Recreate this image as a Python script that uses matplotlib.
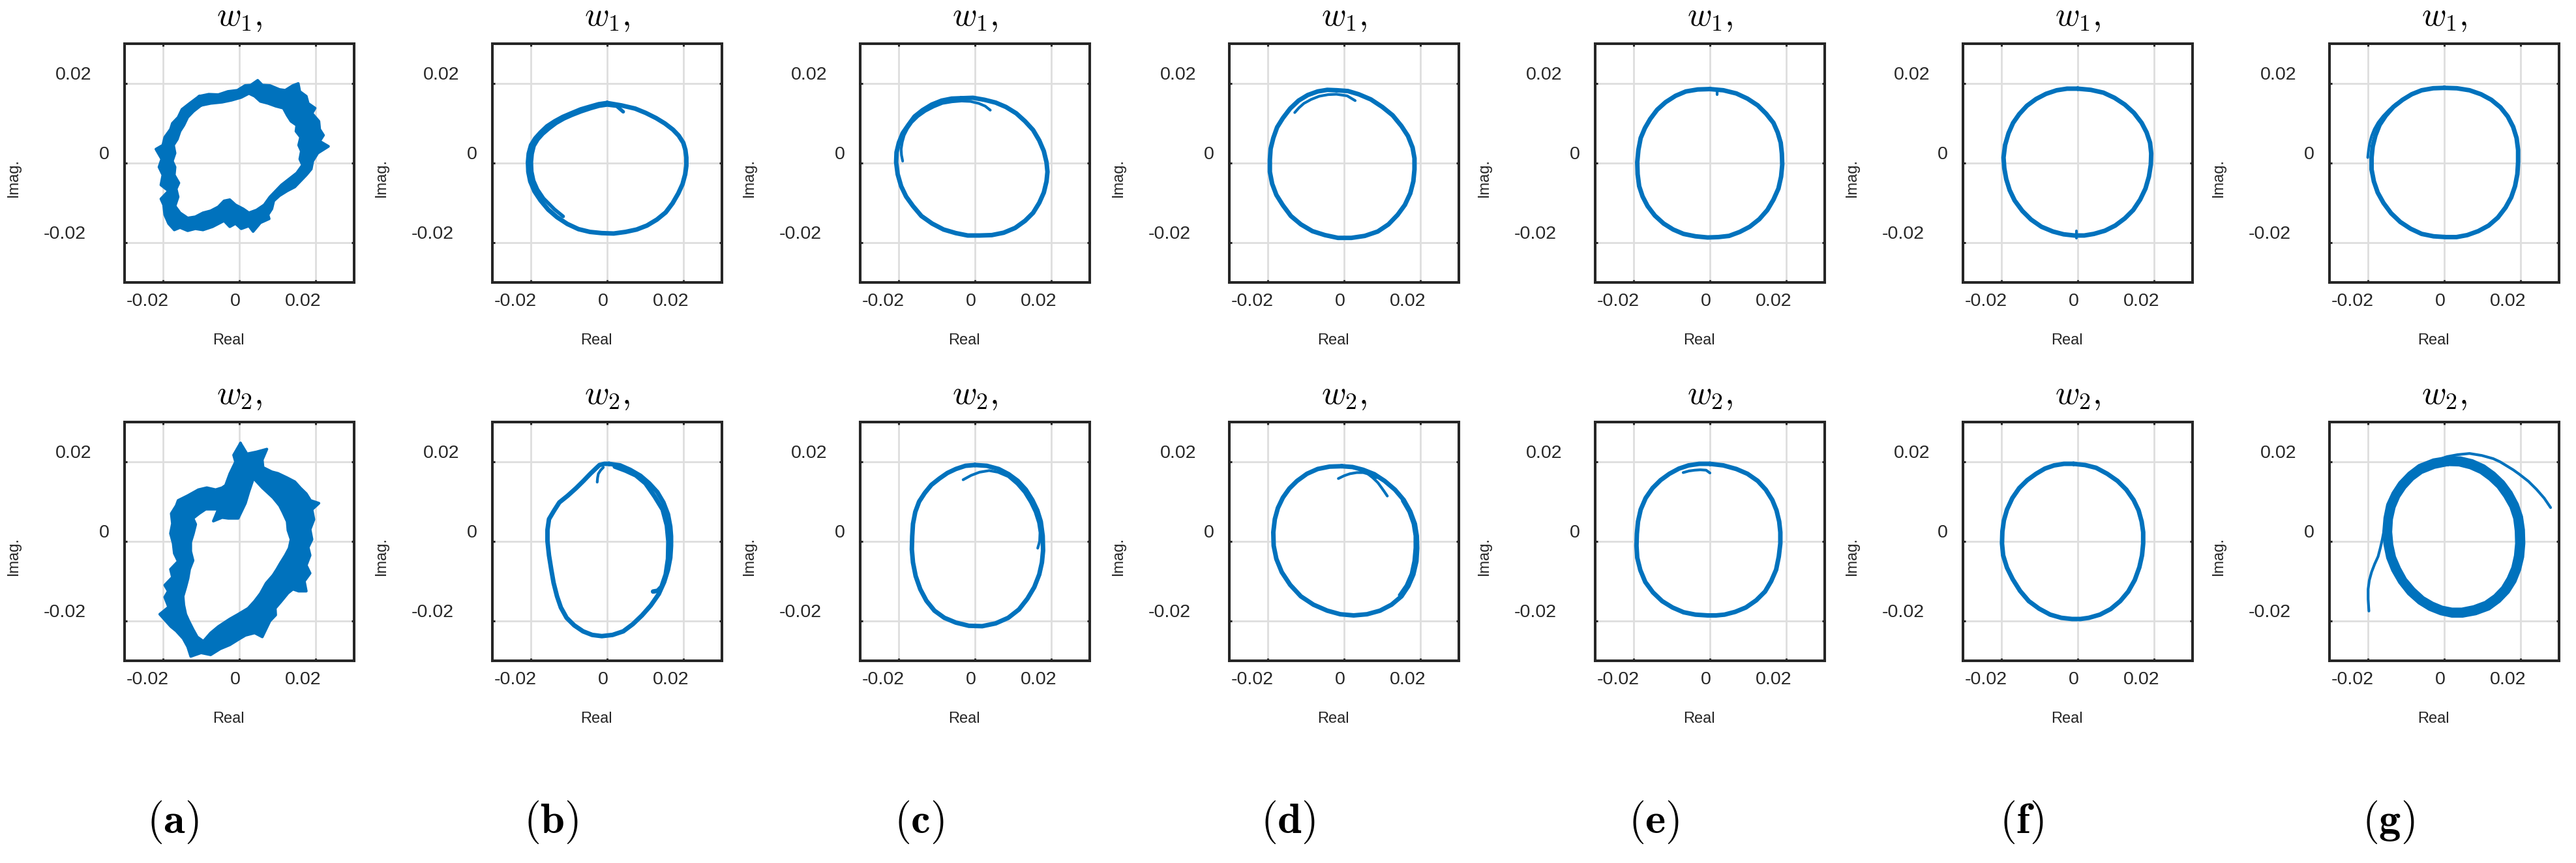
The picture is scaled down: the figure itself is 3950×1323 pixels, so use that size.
import numpy as np
import matplotlib
matplotlib.use('Agg')
import matplotlib.pyplot as plt
from matplotlib.path import Path
from matplotlib.patches import PathPatch
from matplotlib.transforms import offset_copy, blended_transform_factory

plt.rcParams['font.family'] = ['Liberation Sans', 'DejaVu Sans']
plt.rcParams['mathtext.fontset'] = 'cm'

W, H = 3950, 1323
blue = '#0072BD'
ink = '#262626'
milli = 1e-3   # every point below in units of 1e-3

# ---------------- data (Real, Imag.) ----------------
panel_names = ['a', 'b', 'c', 'd', 'e', 'f', 'g']
row_titles = [r'$w_{1},$', r'$w_{2},$']
tick_vals = [-0.02, 0, 0.02]
tick_text = ['-0.02', '0', '0.02']

# (a) noisy loops: outer and inner edge of the band, plus a middle trace
a_w1_outer = [(-10.5,16.8),(-8.0,17.3),(-5.5,17.2),(-3.0,18.0),(-0.5,18.3),(1.5,19.5),(3.0,19.6),(4.8,20.8),
              (6.0,19.6),(8.0,19.5),(10.5,18.5),(12.0,18.3),(14.0,19.5),(15.4,20.0),(15.8,18.0),(17.5,16.8),
              (18.0,15.0),(19.8,13.8),(19.0,12.5),(20.8,10.5),(21.0,8.5),(22.0,7.0),(21.0,5.5),(23.3,4.2),
              (20.5,2.5),(19.2,0.5),(18.8,-1.5),(17.5,-3.0),(16.0,-4.5),(14.5,-6.0),(12.5,-7.0),(10.5,-8.2),
              (9.0,-9.5),(8.5,-11.5),(7.5,-13.0),(7.8,-14.0),(5.5,-15.0),(3.6,-17.2),(2.5,-15.8),(0.5,-16.5),
              (-1.0,-15.2),(-2.5,-16.0),(-4.0,-14.5),(-5.0,-15.0),(-7.0,-16.0),(-9.5,-16.8),(-11.5,-16.5),
              (-13.5,-17.0),(-15.5,-16.2),(-17.0,-16.8),(-18.5,-15.2),(-19.5,-13.0),(-19.8,-10.5),(-20.5,-9.0),
              (-18.5,-7.0),(-20.5,-5.5),(-20.0,-3.0),(-21.0,-1.0),(-20.3,1.0),(-21.8,3.5),(-20.0,4.5),
              (-19.5,6.5),(-18.0,8.5),(-17.5,10.0),(-16.0,11.5),(-15.0,13.5),(-13.0,15.0),(-10.5,16.8)]
a_w1_inner = [(-10.0,14.5),(-7.5,15.0),(-4.5,15.3),(-2.0,15.8),(0.5,16.5),(2.5,17.5),(4.0,16.8),(5.5,15.5),
              (7.5,15.0),(9.5,14.3),(11.5,13.8),(12.5,12.0),(13.5,10.5),(15.0,9.5),(14.8,8.0),(16.0,6.5),
              (15.5,4.5),(16.2,3.0),(15.8,1.0),(16.5,-0.5),(15.0,-2.5),(13.0,-4.0),(11.0,-5.5),(9.5,-7.0),
              (8.0,-8.5),(6.5,-10.5),(4.5,-11.8),(2.5,-12.5),(1.0,-11.5),(-1.0,-10.5),(-2.5,-9.2),(-4.0,-9.5),
              (-5.5,-11.0),(-7.5,-12.0),(-9.5,-12.5),(-11.5,-13.5),(-13.5,-13.8),(-15.5,-12.5),(-16.8,-10.8),
              (-16.0,-8.5),(-16.5,-6.5),(-15.8,-5.0),(-17.0,-3.0),(-16.8,-1.0),(-17.5,0.5),(-16.8,2.5),
              (-17.2,4.5),(-16.2,6.0),(-15.5,8.0),(-14.5,9.5),(-13.5,11.5),(-12.0,13.0),(-10.0,14.5)]
a_w1_mid = [(-10.5,15.8),(-6.0,16.3),(-1.5,17.0),(2.5,18.5),(5.0,18.2),(8.0,17.5),(11.0,16.5),(13.5,16.5),
            (15.0,14.5),(17.0,13.0),(18.0,10.5),(18.5,7.0),(19.5,4.0),(18.0,1.5),(17.5,-1.5),(14.5,-4.5),
            (11.5,-6.8),(8.5,-9.0),(7.0,-12.0),(4.5,-14.0),(1.5,-14.5),(-1.5,-12.5),(-3.5,-12.0),(-6.0,-13.5),
            (-9.5,-14.8),(-13.0,-15.5),(-16.5,-14.5),(-18.0,-12.0),(-18.2,-8.0),(-18.8,-4.0),(-19.0,0.0),
            (-19.2,4.0),(-17.5,7.5),(-15.5,11.0),(-13.0,14.0),(-10.5,15.8)]
a_w2_outer = [(0.3,24.7),(2.0,22.0),(4.5,22.5),(7.2,23.2),(6.0,20.5),(6.2,18.6),(8.5,17.5),(10.1,17.1),
              (12.5,16.0),(14.5,15.0),(16.0,13.4),(17.5,12.0),(18.6,10.3),(20.8,9.6),(19.0,8.0),(19.5,5.5),
              (18.5,3.0),(19.0,0.5),(18.0,-1.5),(18.5,-3.5),(17.5,-6.0),(18.5,-8.0),(17.0,-10.0),(17.5,-12.5),
              (15.5,-12.5),(14.0,-12.0),(12.7,-13.0),(11.0,-15.0),(9.4,-16.8),(9.5,-18.5),(8.0,-20.0),
              (7.0,-22.0),(6.0,-24.0),(4.0,-23.0),(1.6,-23.6),(0.0,-24.5),(-2.5,-26.0),(-5.0,-27.0),
              (-7.5,-28.5),(-10.0,-28.0),(-12.7,-28.9),(-13.5,-26.5),(-14.7,-24.4),(-16.5,-22.5),(-17.9,-21.4),
              (-20.8,-18.3),(-18.5,-16.5),(-19.5,-14.0),(-18.6,-12.5),(-19.5,-11.0),(-17.5,-9.0),(-18.0,-7.0),
              (-16.0,-5.0),(-17.0,-3.0),(-17.3,-0.5),(-18.0,2.0),(-17.5,4.5),(-17.8,7.0),(-16.5,9.0),
              (-16.0,10.3),(-13.5,11.5),(-10.7,13.0),(-8.5,13.5),(-6.2,13.0),(-4.5,13.5),(-3.6,14.1),
              (-2.5,17.0),(-1.0,20.0),(-1.5,21.7),(0.3,24.7)]
a_w2_inner = [(1.5,20.0),(3.6,16.0),(6.0,13.5),(8.8,11.0),(10.5,9.0),(11.4,7.3),(12.5,5.0),(12.7,2.8),
              (13.5,0.5),(13.0,-1.7),(12.0,-3.5),(10.7,-5.5),(9.8,-7.0),(8.8,-8.5),(7.0,-10.5),(5.5,-13.1),
              (4.0,-15.0),(2.3,-16.8),(-0.3,-18.3),(-2.5,-19.5),(-5.5,-21.4),(-7.5,-23.0),(-9.4,-25.1),
              (-11.0,-24.0),(-12.1,-22.1),(-13.2,-20.0),(-14.0,-18.3),(-14.5,-16.0),(-14.7,-13.8),(-14.0,-11.5),
              (-13.4,-9.3),(-13.0,-7.0),(-12.1,-4.8),(-12.7,-2.5),(-12.7,-0.2),(-12.0,2.0),(-11.4,4.3),
              (-12.1,5.8),(-10.5,7.0),(-8.8,8.1),(-5.5,8.1),(-6.8,5.1),(-4.5,6.0),(-2.9,5.8),(-0.3,5.8),
              (0.8,8.0),(1.6,9.6),(2.5,12.5),(3.6,15.6),(2.5,18.0),(1.5,20.0)]
a_w2_mid = [(1.0,22.5),(4.5,19.5),(7.0,15.5),(10.0,13.5),(13.5,11.5),(16.0,9.5),(16.5,6.0),(16.0,2.5),
            (16.5,-1.0),(15.5,-4.5),(15.0,-8.0),(13.0,-10.0),(10.5,-11.5),(8.0,-14.0),(6.5,-17.0),(4.0,-19.5),
            (1.0,-21.0),(-2.0,-22.5),(-5.0,-24.5),(-8.0,-26.5),(-11.0,-27.0),(-13.5,-24.0),(-16.0,-21.0),
            (-17.5,-18.0),(-16.5,-14.0),(-16.8,-10.0),(-15.0,-6.5),(-15.2,-3.0),(-15.5,1.0),(-15.0,5.0),
            (-14.5,8.5),(-12.0,10.5),(-9.0,11.0),(-5.0,11.0),(-2.5,10.5),(-1.0,13.0),(0.0,17.0),(1.0,22.5)]

# (b)
b_w1 = [(0,15.1),(3.7,14.5),(7.3,13.7),(10.1,12.6),(12.8,11.3),(15.1,9.95),(17.2,8.4),(18.7,6.9),(19.9,5.1),
        (20.45,3.3),(20.7,1.4),(20.7,-0.7),(20.4,-2.8),(19.7,-5.3),(18.6,-7.6),(17.1,-10.1),(15.3,-12.4),
        (13.0,-14.2),(10.4,-15.7),(7.7,-16.7),(4.8,-17.3),(1.7,-17.7),(-1.4,-17.6),(-4.5,-17.3),(-7.5,-16.6),
        (-10.4,-15.3),(-13.1,-13.6),(-15.4,-11.7),(-17.4,-9.4),(-19.0,-7.1),(-20.1,-4.6),(-20.6,-2.2),
        (-20.7,0.2),(-20.5,2.4),(-19.9,4.5),(-18.8,6.2),(-17.4,7.7),(-15.7,9.25),(-13.7,10.5),(-11.6,11.6),
        (-9.4,12.5),(-6.9,13.5),(-4.4,14.2),(-2.2,14.8),(0,15.1)]
b_w1_arc = [(-11.5,-13.4),(-13.8,-11.6),(-16.6,-8.9),(-18.2,-6.6),(-19.2,-4.4),(-19.7,-2.1),(-19.8,0.2),
            (-19.6,2.3),(-19.1,4.3),(-18.1,5.9),(-16.8,7.3),(-15.1,8.7),(-13.3,10.0),(-11.3,11.1),(-9.2,12.0),
            (-6.8,12.9),(-4.3,13.7),(-2.1,14.3),(0.0,14.6),(2.5,14.3),(4.2,12.9)]
b_w2 = [(0.5,19.5),(3.4,19.1),(6.0,18.0),(8.7,16.5),(11.0,14.6),(13.1,12.4),(14.7,9.8),(15.9,6.8),(16.5,3.7),
        (16.7,1.3),(16.7,-1.1),(16.5,-4.1),(15.9,-7.1),(14.9,-10.2),(13.5,-13.2),(11.4,-16.1),(9.1,-18.6),
        (6.7,-20.8),(4.2,-22.6),(1.4,-23.5),(-1.4,-23.8),(-3.9,-23.5),(-6.3,-22.6),(-8.6,-21.1),(-10.6,-19.2),
        (-12.1,-16.6),(-13.1,-13.8),(-14.0,-10.4),(-14.6,-7.1),(-15.2,-3.5),(-15.6,0.1),(-15.6,2.9),
        (-15.2,5.6),(-13.9,7.7),(-12.5,9.8),(-10.3,11.5),(-8.1,13.4),(-6.2,15.2),(-4.4,17.0),(-3.1,18.2),
        (-2.0,19.2),(-0.7,19.5),(0.5,19.5)]
b_w2_arc = [(2.0,18.8),(4.8,17.8),(7.5,16.6),(10.0,14.6),(12.4,11.3),(14.5,8.0),(15.6,4.0),(16.0,0.0),
            (15.9,-4.4),(15.3,-8.3),(14.2,-11.4),(13.2,-12.4),(12.0,-12.6)]
b_w2_hook = [(-2.6,14.9),(-2.5,16.0),(-2.3,17.0),(-1.7,17.9),(-1.0,18.6)]

# (c)
c_w1 = [(-3.5,16.3),(-0.5,16.4),(2.5,15.9),(5.4,15.2),(8.1,14.1),(10.8,12.5),(13.1,10.5),(15.2,8.3),(16.8,5.7),
        (18.0,3.0),(18.7,0.2),(18.95,-2.2),(18.7,-4.6),(18.0,-7.4),(16.8,-10.0),(15.2,-12.5),(13.1,-14.5),
        (10.5,-16.3),(7.5,-17.5),(4.4,-18.1),(1.2,-18.2),(-1.9,-18.2),(-5.0,-17.6),(-8.2,-16.7),(-11.2,-15.2),
        (-14.0,-13.3),(-16.2,-10.8),(-18.0,-8.4),(-19.3,-5.8),(-20.2,-2.8),(-20.6,0.2),(-20.5,2.7),(-19.9,5.1),
        (-18.9,7.5),(-17.4,9.6),(-15.8,11.7),(-13.7,13.3),(-11.3,14.7),(-8.7,15.7),(-6.1,16.2),(-3.5,16.3)]
c_w1_arc = [(-18.9,0.5),(-19.2,2.0),(-19.3,3.5),(-19.0,5.3),(-18.5,7.0),(-17.6,8.7),(-16.5,10.2),
            (-14.9,11.7),(-13.0,13.0),(-10.8,14.1),(-8.5,15.0),(-6.0,15.4),(-3.5,15.6),(-1.2,15.5),
            (1.0,15.0),(2.7,14.3),(4.0,13.3)]
c_w2 = [(0,19.2),(3.1,19.0),(6.2,18.2),(8.8,16.9),(11.2,15.2),(13.3,13.0),(15.0,10.4),(16.3,7.8),(17.2,5.0),
        (17.7,1.4),(17.8,-2.3),(17.5,-5.3),(16.8,-8.3),(15.5,-11.5),(13.7,-14.4),(11.5,-17.1),(8.7,-19.2),
        (5.4,-20.6),(1.9,-21.3),(-1.6,-21.2),(-5.0,-20.4),(-8.0,-19.2),(-10.6,-17.4),(-12.7,-14.9),
        (-14.3,-12.0),(-15.5,-8.7),(-16.2,-5.3),(-16.5,-2.0),(-16.4,1.3),(-16.2,4.4),(-15.6,7.4),(-14.6,10.0),
        (-13.1,12.2),(-11.4,14.2),(-9.3,15.8),(-7.2,17.2),(-5.0,18.2),(-2.5,19.0),(0,19.2)]
c_w2_arc = [(-3.1,15.5),(-1.0,16.6),(1.2,17.4),(3.7,17.8),(6.0,17.4),(8.7,16.3),(11.0,14.4),(12.9,12.3),
            (14.5,9.8),(15.7,7.4),(16.6,4.7),(17.0,2.2),(16.9,0.0),(16.4,-1.7)]

# (d)
d_w1 = [(-1.9,18.3),(1.0,18.1),(3.8,17.3),(7.0,16.0),(10.0,14.1),(12.7,12.0),(15.0,9.3),(16.7,6.8),(17.9,3.9),
        (18.4,1.2),(18.4,-1.6),(18.1,-4.6),(17.3,-7.6),(15.9,-10.5),(14.0,-13.0),(11.6,-15.4),(8.8,-17.2),
        (5.4,-18.3),(1.9,-18.8),(-1.6,-18.8),(-5.0,-18.1),(-8.3,-17.1),(-11.3,-15.4),(-13.9,-13.3),
        (-16.0,-10.6),(-17.7,-8.0),(-18.8,-5.2),(-19.4,-2.2),(-19.4,0.8),(-19.2,3.6),(-18.5,6.3),(-17.5,9.0),
        (-16.0,11.3),(-14.1,13.7),(-11.9,15.7),(-9.5,17.1),(-6.9,18.0),(-4.4,18.4),(-1.9,18.3)]
d_w1_arc = [(-12.9,12.7),(-11.8,13.9),(-10.5,15.0),(-8.6,16.0),(-6.5,16.8),(-4.2,17.2),(-2.0,17.3),
            (0.8,16.9),(2.9,15.7)]
d_w2 = [(-0.6,18.9),(2.2,18.7),(5.0,18.0),(7.9,16.9),(10.6,15.2),(13.3,13.0),(15.6,10.4),(17.3,7.5),(18.5,4.4),
        (19.0,1.4),(19.1,-1.7),(18.9,-5.0),(18.1,-8.3),(16.8,-11.2),(15.0,-13.8),(12.4,-15.9),(9.4,-17.4),
        (6.0,-18.3),(2.5,-18.6),(-1.0,-18.3),(-4.4,-17.4),(-8.0,-15.9),(-11.3,-13.8),(-14.1,-10.9),
        (-16.3,-7.7),(-17.7,-4.4),(-18.4,-1.1),(-18.5,2.3),(-18.1,5.6),(-17.3,8.4),(-16.0,11.0),(-14.3,13.3),
        (-12.3,15.2),(-9.7,17.0),(-6.9,18.2),(-3.8,18.8),(-0.6,18.9)]
d_w2_arc = [(4.0,18.0),(5.9,17.2),(7.5,16.0),(8.8,14.8),(9.8,13.5),(10.6,12.4),(11.3,11.4)]
d_w2_hook = [(-1.5,15.8),(0.0,16.5),(1.5,17.0),(3.3,17.3),(5.0,17.3),(6.8,16.8),(8.5,16.0)]
d_w2_side = [(15.2,10.2),(16.9,7.4),(18.0,4.4),(18.5,1.4),(18.5,-1.6),(18.2,-4.9),(17.5,-8.1),(16.2,-11.0),
             (14.4,-13.5)]

# (e)
e_w1 = [(0,18.6),(3.5,18.3),(6.9,17.5),(9.8,16.2),(12.5,14.5),(14.7,12.4),(16.6,10.1),(17.7,7.7),(18.5,5.1),
        (18.8,2.4),(18.9,-0.4),(18.6,-3.4),(17.9,-6.4),(16.6,-9.2),(15.0,-11.8),(12.9,-14.1),(10.4,-16.0),
        (7.8,-17.3),(5.0,-18.3),(2.2,-18.6),(-0.6,-18.7),(-3.8,-18.4),(-6.9,-17.8),(-9.6,-16.7),(-12.1,-15.2),
        (-14.4,-13.2),(-16.3,-10.8),(-17.6,-8.4),(-18.5,-5.8),(-18.9,-2.8),(-19.0,0.2),(-18.7,3.3),(-18.1,6.3),
        (-17.0,8.8),(-15.6,11.1),(-13.8,13.4),(-11.6,15.3),(-9.0,16.9),(-6.3,18.0),(-3.2,18.5),(0,18.6)]
e_w1_hook = [(1.9,18.6),(1.9,17.2)]
e_w2 = [(0,19.5),(3.5,19.1),(6.9,18.2),(9.8,17.0),(12.5,15.2),(14.6,13.0),(16.3,10.4),(17.4,7.8),(18.1,5.0),
        (18.4,2.3),(18.4,-0.5),(18.0,-3.8),(17.3,-7.1),(16.0,-10.0),(14.4,-12.6),(12.1,-14.8),(9.4,-16.6),
        (6.6,-17.7),(3.8,-18.4),(1.6,-18.6),(-0.6,-18.6),(-3.8,-18.4),(-6.9,-17.8),(-9.8,-16.6),(-12.5,-15.0),
        (-14.9,-12.8),(-16.9,-10.2),(-18.2,-7.2),(-19.0,-4.1),(-19.2,-1.1),(-19.1,1.9),(-18.8,5.0),(-18.1,8.0),
        (-16.8,10.9),(-15.0,13.4),(-12.9,15.4),(-10.6,17.0),(-8.1,18.3),(-5.6,19.1),(-2.8,19.5),(0,19.5)]
e_w2_hook = [(-7.0,17.3),(-5.5,17.7),(-4.0,17.9),(-2.5,18.0),(-1.0,17.9),(0.0,17.2)]

# (f)
f_w1 = [(0,18.7),(3.4,18.4),(6.7,17.7),(9.6,16.4),(12.3,14.7),(14.7,12.6),(16.7,10.1),(18.0,7.7),(18.9,5.1),
        (19.2,2.4),(19.1,-0.4),(18.6,-3.4),(17.7,-6.4),(16.3,-9.2),(14.5,-11.8),(12.3,-13.9),(9.8,-15.7),
        (7.1,-17.0),(4.2,-17.8),(1.7,-18.2),(-0.9,-18.2),(-3.7,-17.9),(-6.5,-17.2),(-9.5,-16.0),(-12.2,-14.2),
        (-14.5,-12.0),(-16.5,-9.4),(-17.8,-6.8),(-18.7,-4.0),(-19.2,-1.3),(-19.4,1.4),(-19.0,4.5),(-18.1,7.5),
        (-16.9,10.1),(-15.3,12.3),(-13.3,14.4),(-10.9,16.1),(-8.3,17.4),(-5.5,18.3),(-2.8,18.7),(0,18.7)]
f_w1_hook = [(-0.4,-18.8),(-0.4,-17.0)]
f_w2 = [(-1.1,19.5),(1.9,19.2),(4.8,18.5),(7.7,17.0),(10.4,15.2),(12.7,13.0),(14.6,10.4),(15.9,7.8),(16.7,5.0),
        (17.1,2.3),(17.1,-0.5),(16.8,-3.5),(16.1,-6.5),(14.9,-9.7),(13.2,-12.6),(11.1,-15.0),(8.6,-17.0),
        (5.8,-18.4),(2.9,-19.2),(0.7,-19.5),(-1.5,-19.5),(-4.3,-19.2),(-7.2,-18.4),(-10.1,-16.9),(-12.8,-15.0),
        (-15.1,-12.4),(-17.0,-9.5),(-18.5,-6.6),(-19.5,-3.5),(-19.8,-0.5),(-19.7,2.5),(-19.3,5.3),(-18.5,8.0),
        (-17.1,10.9),(-15.3,13.4),(-13.2,15.4),(-10.9,17.0),(-8.6,18.3),(-6.2,19.1),(-3.6,19.5),(-1.1,19.5)]

# (g)
g_w1 = [(0,18.9),(3.3,18.8),(6.6,18.3),(9.6,17.3),(12.3,15.9),(14.7,14.0),(16.6,11.7),(18.0,9.1),(18.9,6.3),
        (19.3,3.3),(19.3,0.2),(19.1,-2.8),(18.5,-5.8),(17.5,-8.6),(16.0,-11.2),(14.0,-13.7),(11.6,-15.7),
        (8.9,-17.1),(6.0,-18.1),(3.2,-18.6),(0.4,-18.6),(-2.8,-18.4),(-5.9,-17.8),(-8.8,-16.5),(-11.5,-14.8),
        (-13.9,-12.6),(-15.9,-10.0),(-17.4,-7.4),(-18.4,-4.6),(-19.0,-1.6),(-19.0,1.4),(-18.7,4.2),(-18.0,6.9),
        (-16.9,9.6),(-15.3,11.9),(-13.3,14.1),(-10.9,15.9),(-8.5,17.3),(-5.9,18.3),(-2.9,18.8),(0,18.9)]
g_w1_arc = [(-20.0,1.4),(-19.8,3.2),(-19.5,5.0),(-19.0,6.8),(-18.3,8.5),(-17.3,10.2),(-16.0,11.8),
            (-14.4,13.4),(-12.5,15.0)]
g_w2 = [(1.0,20.9),(4.2,20.8),(7.3,20.1),(10.3,18.8),(12.9,17.0),(15.3,14.8),(17.3,12.2),(18.9,9.3),(20.0,6.2),
        (20.5,2.9),(20.6,-0.5),(20.3,-3.9),(19.5,-7.1),(18.3,-10.0),(16.6,-12.6),(14.3,-14.9),(11.6,-16.8),
        (8.2,-18.0),(4.8,-18.6),(2.0,-18.6),(-0.9,-18.0),(-3.8,-16.9),(-6.5,-15.3),(-9.2,-13.0),(-11.5,-10.2),
        (-13.3,-7.2),(-14.6,-4.1),(-15.3,-0.8),(-15.6,2.5),(-15.3,5.9),(-14.6,9.2),(-13.2,12.1),(-11.5,14.6),
        (-9.1,17.0),(-6.5,18.9),(-2.8,20.3),(1.0,20.9)]
g_w2_inner = [(1.0,19.5),(3.9,19.4),(6.8,18.7),(9.6,17.5),(12.0,15.8),(14.2,13.8),(16.0,11.4),(17.6,8.7),
              (18.6,5.8),(19.0,2.7),(19.1,-0.5),(18.8,-3.6),(18.1,-6.6),(16.9,-9.3),(15.4,-11.7),(13.3,-13.8),
              (10.8,-15.5),(7.7,-16.6),(4.6,-17.2),(2.0,-17.2),(-0.6,-16.7),(-3.1,-15.7),(-5.6,-14.3),
              (-8.1,-12.1),(-10.3,-9.6),(-11.9,-6.8),(-13.2,-3.9),(-13.9,-0.8),(-14.2,2.4),(-14.0,5.6),
              (-13.3,8.6),(-12.1,11.3),(-10.5,13.6),(-8.4,15.8),(-6.0,17.5),(-2.6,18.8),(1.0,19.5)]
g_w2_start = [(-19.7,-17.5),(-19.9,-14.5),(-19.9,-12.0),(-19.6,-9.8),(-19.0,-7.7),(-18.2,-5.7),
              (-17.3,-3.8),(-16.7,-1.6),(-16.2,0.5),(-15.8,2.5)]
g_w2_end = [(-0.5,20.9),(0.7,21.3),(3.5,21.8),(6.6,22.1),(9.8,21.6),(12.8,20.8),(14.6,20.0),(16.3,19.0),
            (18.0,18.0),(19.6,16.9),(22.0,15.1),(24.1,13.1),(26.1,10.9),(27.8,8.5)]

# band fills: outer and inner edge of the thick, many-times-traced loops
bands = {('a', 0): (a_w1_outer, a_w1_inner), ('a', 1): (a_w2_outer, a_w2_inner),
         ('g', 1): (g_w2, g_w2_inner)}

# traces per panel: (points, linewidth in pt)
ring, thin, noisy = 5.0, 3.0, 3.0
traces = {
    ('a', 0): [(a_w1_outer, noisy), (a_w1_inner, noisy), (a_w1_mid, noisy)],
    ('a', 1): [(a_w2_outer, noisy), (a_w2_inner, noisy), (a_w2_mid, noisy)],
    ('b', 0): [(b_w1, ring), (b_w1_arc, 4.0)],
    ('b', 1): [(b_w2, ring), (b_w2_arc, ring), (b_w2_hook, thin)],
    ('c', 0): [(c_w1, ring), (c_w1_arc, thin)],
    ('c', 1): [(c_w2, ring), (c_w2_arc, thin)],
    ('d', 0): [(d_w1, ring), (d_w1_arc, thin)],
    ('d', 1): [(d_w2, ring), (d_w2_arc, thin), (d_w2_hook, thin), (d_w2_side, thin)],
    ('e', 0): [(e_w1, ring), (e_w1_hook, thin)],
    ('e', 1): [(e_w2, ring), (e_w2_hook, thin)],
    ('f', 0): [(f_w1, ring), (f_w1_hook, thin)],
    ('f', 1): [(f_w2, ring)],
    ('g', 0): [(g_w1, ring), (g_w1_arc, thin)],
    ('g', 1): [(g_w2, ring), (g_w2_inner, ring), (g_w2_start, thin), (g_w2_end, thin)],
}

# ---------------- layout (pixels of the 3950x1323 canvas) ----------------
lefts = [191, 755, 1319, 1885, 2446, 3010, 3572]
tops = [67, 647]
box_w, box_h = 352, 366
label_x = [265, 845, 1409, 1975, 2536, 3100, 3662]
label_y = 1260
xlab_dx = [-23, -6, -20]
ylab_dx = [-92, -31, -78]

fig = plt.figure(figsize=(W / 100, H / 100), dpi=100)


def setup_axes(ax, title):
    ax.set_xlim(-0.03, 0.03)
    ax.set_ylim(-0.03, 0.03)
    ax.set_xticks(tick_vals)
    ax.set_yticks(tick_vals)
    ax.tick_params(direction='in', length=3, width=2.2, colors=ink,
                   top=True, right=True, labelbottom=False, labelleft=False)
    ax.grid(True, color='#dedede', lw=2.0)
    ax.set_axisbelow(True)
    for sp in ax.spines.values():
        sp.set_linewidth(2.9)
        sp.set_color(ink)

    xt = blended_transform_factory(ax.transData, ax.transAxes)
    for v, t, dx in zip(tick_vals, tick_text, xlab_dx):
        ax.text(v, 0, t, transform=offset_copy(xt, fig=fig, x=dx, y=-29, units='dots'),
                ha='center', va='center', fontsize=20.5, color=ink)
    yt = blended_transform_factory(ax.transAxes, ax.transData)
    for v, t, dx in zip(tick_vals, tick_text, ylab_dx):
        ax.text(0, v, t, transform=offset_copy(yt, fig=fig, x=dx, y=13, units='dots'),
                ha='center', va='center', fontsize=20.5, color=ink)

    ax.text(0.5, 0, 'Real', transform=offset_copy(ax.transAxes, fig=fig, x=-17, y=-89, units='dots'),
            ha='center', va='center', fontsize=17, color=ink)
    ax.text(0, 0.5, 'Imag.', rotation=90,
            transform=offset_copy(ax.transAxes, fig=fig, x=-170, y=-23, units='dots'),
            ha='center', va='center', fontsize=17, color=ink)
    ax.text(0.5, 1, title, transform=offset_copy(ax.transAxes, fig=fig, x=0, y=28, units='dots'),
            ha='center', va='baseline', fontsize=37, color='black')


def band_patch(outer, inner):
    # outer edge one way round, inner edge the other way, so the hole stays empty
    verts = [(x * milli, y * milli) for x, y in outer] + [(x * milli, y * milli) for x, y in inner[::-1]]
    codes = ([Path.MOVETO] + [Path.LINETO] * (len(outer) - 2) + [Path.CLOSEPOLY] +
             [Path.MOVETO] + [Path.LINETO] * (len(inner) - 2) + [Path.CLOSEPOLY])
    return PathPatch(Path(verts, codes), facecolor=blue, edgecolor='none')


for c, name in enumerate(panel_names):
    for r in range(2):
        rect = [lefts[c] / W, 1 - (tops[r] + box_h) / H, box_w / W, box_h / H]
        ax = fig.add_axes(rect)
        setup_axes(ax, row_titles[r])
        if (name, r) in bands:
            ax.add_patch(band_patch(*bands[(name, r)]))
        for pts, lw in traces[(name, r)]:
            x, y = zip(*pts)
            ax.plot(np.array(x) * milli, np.array(y) * milli, color=blue, lw=lw,
                    solid_joinstyle='round', solid_capstyle='round')
    fig.text(label_x[c] / W, 1 - label_y / H, r'$(\mathbf{%s})$' % name,
             ha='center', va='center', fontsize=48, color='black')

fig.savefig('out.png', dpi=100)
